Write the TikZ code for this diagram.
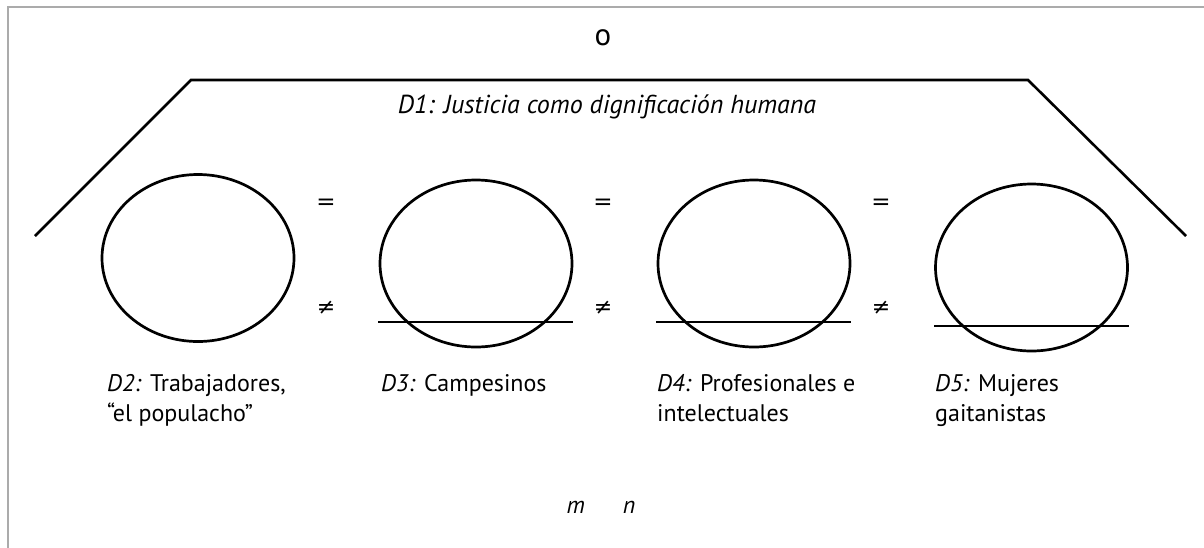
\documentclass[tikz,border=0pt]{standalone}
\usepackage{fontspec}
\setmainfont{PT Sans}
\newfontfamily\symfont{DejaVu Sans}
\usetikzlibrary{shapes.geometric}
\tikzset{
  frame/.style={draw=black!33, line width=2pt},
  roof/.style={draw=black, line width=2.6pt},
  group/.style={ellipse, draw=black, line width=2.7pt, minimum width=192pt, minimum height=167pt, inner sep=0pt},
  bar/.style={draw=black, line width=2.7pt},
  lbl/.style={font=\fontsize{24}{30}\selectfont, align=left, anchor=north west, inner sep=0pt},
  rel/.style={font=\fontsize{23}{28}\symfont, inner sep=0pt},
  nrel/.style={font=\fontsize{22}{26}\symfont, inner sep=0pt},
}
\begin{document}
\begin{tikzpicture}[x=1pt,y=-1pt]
\useasboundingbox (0,0) rectangle (1204,547);
\draw[frame] (8,548) -- (8,7) -- (1206,7);
% roof
\coordinate (rl) at (35,236);
\coordinate (tl) at (191,80);
\coordinate (tr) at (1028,80);
\coordinate (rr) at (1186,236);
\draw[roof] (rl) -- (tl) -- (tr) -- (rr);
\node[font=\fontsize{31}{36}\selectfont, anchor=base, inner sep=0pt] (o) at (603,45) {o};
\node[font=\fontsize{26}{30}\selectfont\itshape, anchor=base, inner sep=0pt] (d1) at (607,113) {D1: Justicia como dignificación humana};
% groups
\node[group] (c1) at (198,258) {};
\node[group] (c2) at (476,263.5) {};
\node[group] (c3) at (754,263.5) {};
\node[group] (c4) at (1031.5,267.5) {};
\coordinate (b2l) at (378,322); \coordinate (b2r) at (573,322);
\coordinate (b3l) at (656,322); \coordinate (b3r) at (851,322);
\coordinate (b4l) at (934,326); \coordinate (b4r) at (1129,326);
\draw[bar] (b2l) -- (b2r);
\draw[bar] (b3l) -- (b3r);
\draw[bar] (b4l) -- (b4r);
% relations
\node[rel] (e1) at (326,204.5) {=};
\node[rel] (e2) at (603,204.5) {=};
\node[rel] (e3) at (881,204.5) {=};
\node[nrel] (n1) at (326,308) {≠};
\node[nrel] (n2) at (603,308) {≠};
\node[nrel] (n3) at (881,308) {≠};
% labels
\node[lbl] (l2) at (107,374) {\textit{D2:} Trabajadores,\\“el populacho”};
\node[lbl] (l3) at (381,374) {\textit{D3:} Campesinos};
\node[lbl] (l4) at (657,374) {\textit{D4:} Profesionales e\\intelectuales};
\node[lbl] (l5) at (935,374) {\textit{D5:} Mujeres\\gaitanistas};
\node[font=\fontsize{24}{30}\selectfont\itshape, anchor=base, inner sep=0pt] (mn) at (601,513) {m\hspace{38pt}n};
\end{tikzpicture}
\end{document}
